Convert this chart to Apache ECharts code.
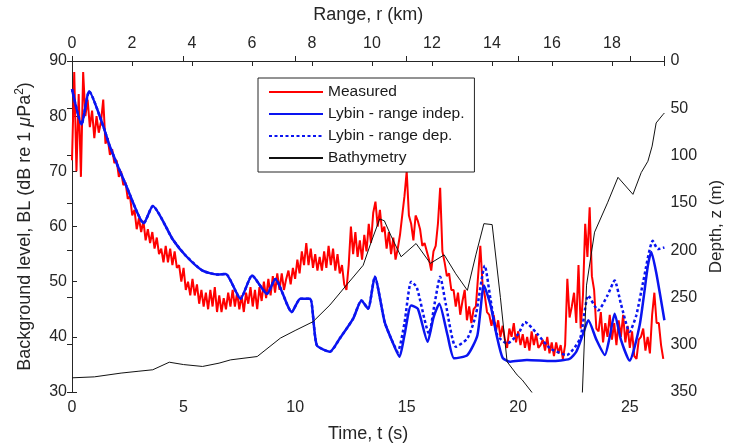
<!DOCTYPE html>
<html>
<head>
<meta charset="utf-8">
<script src="https://cdn.jsdelivr.net/npm/echarts@6/dist/echarts.min.js"></script>
<style>
  html, body { margin: 0; padding: 0; background: #fff; }
  #chart { width: 733px; height: 448px; }
</style>
</head>
<body>
<div id="chart"></div>
<script>
// ---- Data ----
// Time axis (s) and range axis (km) extents / ticks
var timeMax = 26.55;
var rangeMax = 19.75;
var timeTicks = [0, 5, 10, 15, 20, 25];
var rangeTicks = [0, 2, 4, 6, 8, 10, 12, 14, 16, 18];

// Measured background level (dB), sampled every 0.1 s from t = 0
var measuredStep = 0.1;
var measured = [
  72, 88, 70, 84, 69, 88, 80, 83, 78, 81,
  76, 80, 77, 79, 83, 75, 76, 73, 74, 71.5,
  72, 69, 70, 67.5, 68, 65, 65.5, 62, 63, 59.5,
  61.5, 59, 61, 57.5, 59.5, 57, 59, 56, 58, 55,
  56, 53.5, 56.5, 53.5, 56, 53, 55.5, 52.5, 53, 50,
  52.5, 48.5, 50, 47.5, 50.5, 47.5, 49.5, 46, 48.5, 45.5,
  48, 45, 48.5, 45.5, 49, 44.5, 47.5, 44.5, 47, 45,
  48, 45.5, 48.5, 45.5, 48, 45, 47.5, 44.5, 48, 46,
  49, 45.5, 48.5, 45, 49, 46.5, 50, 47, 50.5, 47.5,
  51, 48, 51.5, 48.5, 51.5, 48.5, 50.5, 52, 49.5, 52.5,
  50.5, 54, 51.5, 55.5, 53, 57, 53, 56, 52.5, 55,
  52, 54.5, 52, 55.5, 52.5, 56.5, 53, 56, 52, 55,
  51.5, 53, 49.5, 48.5, 53, 60, 55, 59, 54.5, 57.5,
  54, 58.5, 55.5, 60.5, 57, 62.5, 64.5, 60, 63, 59,
  60, 56, 59, 55, 58, 54, 56, 58.5, 62, 65.5,
  70, 62, 60.5, 57.5, 62, 61, 59.5, 56.5, 57, 55.5,
  54, 52, 55.5, 56.5, 60.5, 67, 55.5, 53.5, 51, 51.5,
  48.5, 48.5, 45.5, 48, 44, 46.5, 48.5, 43, 45.5, 42.5,
  45, 45.5, 51, 56.5, 49.5, 47.5, 44.5, 44, 42, 44,
  41, 43, 40, 42, 39.5, 38, 41.5, 40, 42.5, 39,
  41, 38.5, 40.5, 38, 40, 37.5, 41, 38.5, 40.5, 38,
  38.5, 39.5, 37.5, 40, 37, 39, 36.5, 39, 37, 38.5,
  36, 38.5, 50.5, 43.5, 45.5, 48, 42.5, 53, 41.5, 47.5,
  60.5, 54.5, 63.5, 51, 48.5, 41.5, 41, 44.5, 39, 42.5,
  40, 44, 39.5, 42.5, 38.5, 43, 40, 44, 39, 42,
  38, 41, 36.5, 36, 39.5, 40, 41.5, 37.5, 40, 37,
  44, 48, 42.5, 42.5, 38.5, 36
];

// Lybin - range independent  [t (s), BL (dB)]
var lybinIndep = [
  [0, 84.9], [0.43, 78.5], [0.77, 84.5], [1.4, 78.2], [1.69, 74.6], [2.43, 67.4],
  [3.22, 60.6], [3.62, 63.7], [4.51, 57.7], [5.1, 54.7], [5.85, 52.0], [6.51, 51.3],
  [6.89, 51.4], [7.55, 46.9], [8.07, 51.1], [8.74, 47.8], [9.11, 50.5], [9.85, 44.5],
  [10.23, 46.9], [10.67, 46.9], [10.97, 38.5], [11.56, 37.3], [12.0, 39.7], [12.6, 43.3],
  [12.97, 46.6], [13.27, 45.1], [13.57, 50.9], [14.01, 42.7], [14.3, 39.7], [14.68, 36.4],
  [14.9, 40.3], [15.2, 45.7], [15.5, 45.1], [15.94, 39.1], [16.2, 43.5], [16.46, 46.0],
  [16.83, 40.3], [17.13, 36.1], [17.72, 36.7], [18.17, 40.3], [18.46, 49.3], [18.76, 45.7],
  [19.03, 40.3], [19.3, 36.2], [19.65, 35.5], [20.39, 35.8], [21.5, 35.6], [22.3, 36.0],
  [22.6, 37.3], [22.9, 40.5], [23.14, 43.0], [23.5, 39.5], [23.88, 36.7], [24.1, 40.0],
  [24.32, 44.2], [24.6, 39.5], [24.99, 35.7], [25.44, 42.1], [25.81, 52.9], [25.96, 55.4],
  [26.18, 51.7], [26.55, 43.0]
];

// Lybin - range dependent  [t (s), BL (dB)]
var lybinDep = [
  [0, 84.9], [0.43, 78.5], [0.77, 84.5], [1.4, 78.2], [1.69, 74.6], [2.43, 67.4],
  [3.22, 60.6], [3.62, 63.7], [4.51, 57.7], [5.1, 54.7], [5.85, 52.0], [6.51, 51.3],
  [6.89, 51.4], [7.55, 46.9], [8.07, 51.1], [8.74, 47.8], [9.11, 50.5], [9.85, 44.5],
  [10.23, 46.9], [10.67, 46.9], [10.97, 38.5], [11.56, 37.3], [12.0, 39.7], [12.6, 43.3],
  [12.97, 46.6], [13.27, 45.1], [13.57, 50.9], [14.01, 42.7], [14.3, 39.7], [14.6, 37.3],
  [14.9, 42.5], [15.2, 50.0], [15.45, 49.0], [16.0, 40.6], [16.25, 46.0], [16.5, 50.9],
  [16.75, 46.0], [17.2, 38.2], [17.72, 39.7], [18.1, 44.0], [18.5, 52.9], [18.75, 47.0],
  [19.06, 40.3], [19.5, 38.8], [20.0, 40.5], [20.3, 42.7], [20.84, 40.6], [21.43, 37.9],
  [22.17, 36.7], [22.77, 39.7], [23.14, 47.5], [23.58, 44.8], [24.0, 47.5], [24.32, 50.2],
  [24.6, 46.0], [24.99, 40.9], [25.29, 43.9], [25.6, 50.0], [26.03, 57.4], [26.26, 55.9],
  [26.55, 56.2]
];

// Bathymetry  [t (s), depth (m)]
var bathymetry = [
  [0, 335], [1, 334], [2.2, 330], [3, 328], [3.62, 326.5], [4.36, 318.5], [5.0, 321],
  [5.85, 323], [6.59, 319.5], [7.11, 316], [8.3, 312.5], [9.34, 293], [10.0, 285],
  [10.8, 275.7], [11.56, 258], [12.3, 237], [13.05, 216], [13.4, 192], [13.79, 167],
  [14.0, 169], [14.3, 185], [14.75, 207], [15.42, 193], [16.06, 214], [16.68, 205],
  [17.2, 225], [17.72, 242.5], [18.1, 205], [18.46, 172], [18.83, 173], [19.2, 250],
  [19.5, 318], [19.95, 332], [20.17, 337], [20.6, 350], [21.0, 365], [22.85, 365],
  [23.06, 237], [23.42, 181], [24.0, 150], [24.47, 123], [25.14, 141], [25.51, 118],
  [25.81, 106], [26.0, 90], [26.18, 65.5], [26.48, 56.8], [26.55, 55]
];

var blTicks = [30, 40, 50, 60, 70, 80, 90];
var depthTicks = [0, 50, 100, 150, 200, 250, 300, 350];

// ---- Build chart ----
var measuredData = measured.map(function (v, i) {
  return [Math.round(i * measuredStep * 100) / 100, v];
});

function inList(list) {
  return function (v) {
    for (var i = 0; i < list.length; i++) {
      if (Math.abs(list[i] - v) < 1e-6) return String(list[i]);
    }
    return '';
  };
}

var FONT = '"Liberation Sans", Arial, Helvetica, sans-serif';
var AX = '#262626';
var BLUE = '#0a14f0';

var chart = echarts.init(document.getElementById('chart'), null, { renderer: 'canvas' });
chart.setOption({
  animation: false,
  backgroundColor: '#ffffff',
  textStyle: { fontFamily: FONT },
  grid: { left: 72, right: 64, top: 61, bottom: 54, containLabel: false },
  legend: {
    orient: 'vertical',
    left: 258,
    top: 78,
    padding: [6, 10, 6, 10],
    itemWidth: 54,
    itemHeight: 14,
    itemGap: 6,
    borderColor: AX,
    borderWidth: 1,
    backgroundColor: '#ffffff',
    itemStyle: { opacity: 0, borderWidth: 0 },
    textStyle: { fontFamily: FONT, fontSize: 15.5, color: '#1a1a1a' },
    data: ['Measured', 'Lybin - range indep.', 'Lybin - range dep.', 'Bathymetry']
  },
  xAxis: [
    {
      type: 'value', position: 'bottom', min: 0, max: timeMax, interval: 5,
      name: 'Time, t (s)', nameLocation: 'middle', nameGap: 33,
      nameTextStyle: { fontSize: 18, color: AX, fontFamily: FONT },
      axisLine: { show: true, lineStyle: { color: AX, width: 1 } },
      axisTick: { show: true, inside: true, length: 5, lineStyle: { color: AX } },
      axisLabel: { fontSize: 16, color: AX, margin: 8, formatter: inList(timeTicks) },
      splitLine: { show: false }
    },
    {
      type: 'value', position: 'top', min: 0, max: rangeMax, interval: 2,
      name: 'Range, r (km)', nameLocation: 'middle', nameGap: 37,
      nameTextStyle: { fontSize: 18, color: AX, fontFamily: FONT },
      axisLine: { show: true, lineStyle: { color: AX, width: 1 } },
      axisTick: { show: true, inside: true, length: 5, lineStyle: { color: AX } },
      axisLabel: { fontSize: 16, color: AX, margin: 9, formatter: inList(rangeTicks) },
      splitLine: { show: false }
    }
  ],
  yAxis: [
    {
      type: 'value', position: 'left', min: 30, max: 90, interval: 10,
      name: 'Background level, BL (dB re 1 {i|μ}Pa{s|2})', nameLocation: 'middle', nameGap: 36,
      nameRotate: 90,
      nameTextStyle: {
        fontSize: 18, color: AX, fontFamily: FONT, lineHeight: 22,
        rich: {
          i: { fontSize: 18, fontStyle: 'italic', color: AX, fontFamily: FONT, lineHeight: 22 },
          s: { fontSize: 12, color: AX, fontFamily: FONT, verticalAlign: 'top', lineHeight: 12 }
        }
      },
      axisLine: { show: true, lineStyle: { color: AX, width: 1 } },
      axisTick: { show: true, inside: true, length: 5, lineStyle: { color: AX } },
      axisLabel: { fontSize: 16, color: AX, margin: 5, formatter: inList(blTicks) },
      splitLine: { show: false }
    },
    {
      type: 'value', position: 'right', min: 0, max: 350, interval: 50, inverse: true,
      name: 'Depth, z (m)', nameLocation: 'middle', nameGap: 42, nameRotate: 90,
      nameTextStyle: { fontSize: 17, color: AX, fontFamily: FONT },
      axisLine: { show: true, lineStyle: { color: AX, width: 1 } },
      axisTick: { show: true, inside: true, length: 5, lineStyle: { color: AX } },
      axisLabel: { fontSize: 16, color: AX, margin: 6, formatter: inList(depthTicks) },
      splitLine: { show: false }
    }
  ],
  series: [
    {
      name: 'Measured', type: 'line', xAxisIndex: 0, yAxisIndex: 0,
      data: measuredData, symbol: 'none', clip: true,
      lineStyle: { color: '#ff0000', width: 2 }, itemStyle: { color: '#ff0000' }, z: 2
    },
    {
      name: 'Lybin - range indep.', type: 'line', xAxisIndex: 0, yAxisIndex: 0,
      data: lybinIndep, symbol: 'none', clip: true, smooth: 0.2,
      lineStyle: { color: BLUE, width: 2.5 }, itemStyle: { color: BLUE }, z: 3
    },
    {
      name: 'Lybin - range dep.', type: 'line', xAxisIndex: 0, yAxisIndex: 0,
      data: lybinDep, symbol: 'none', clip: true, smooth: 0.2,
      lineStyle: { color: BLUE, width: 2.5, type: [3, 2.5] }, itemStyle: { color: BLUE }, z: 3
    },
    {
      name: 'Bathymetry', type: 'line', xAxisIndex: 0, yAxisIndex: 1,
      data: bathymetry, symbol: 'none', clip: true,
      lineStyle: { color: '#111111', width: 1 }, itemStyle: { color: '#111111' }, z: 4
    }
  ]
});
</script>
</body>
</html>
